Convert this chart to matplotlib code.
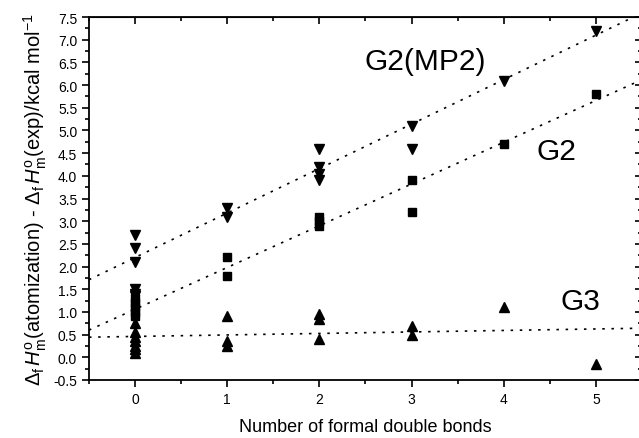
import matplotlib
matplotlib.use("Agg")
import matplotlib.pyplot as plt
import numpy as np
from matplotlib.ticker import MultipleLocator, FormatStrFormatter

plt.rcParams['font.family'] = ['Liberation Sans', 'DejaVu Sans']
plt.rcParams['mathtext.fontset'] = 'custom'
plt.rcParams['mathtext.rm'] = 'Liberation Sans'
plt.rcParams['mathtext.it'] = 'Liberation Sans:italic'

# number of formal double bonds vs. deviation (kcal/mol)
g2mp2_x = [0, 0, 0, 0, 0, 0, 1, 1, 2, 2, 2, 2, 3, 3, 4, 5]
g2mp2_y = [2.7, 2.4, 2.1, 1.5, 1.4, 1.35, 3.3, 3.1, 4.6, 4.2, 4.05, 3.9, 5.1, 4.6, 6.1, 7.2]

g2_x = [0, 0, 0, 0, 0, 1, 1, 2, 2, 2, 3, 3, 4, 5]
g2_y = [1.3, 1.2, 1.1, 1.0, 0.9, 2.2, 1.8, 3.1, 3.0, 2.9, 3.9, 3.2, 4.7, 5.8]

g3_x = [0, 0, 0, 0, 0, 0, 0, 1, 1, 1, 2, 2, 2, 3, 3, 4, 5]
g3_y = [0.75, 0.55, 0.45, 0.35, 0.25, 0.18, 0.1, 0.9, 0.35, 0.25, 0.95, 0.85, 0.4, 0.7, 0.5, 1.1, -0.15]

# fitted lines (intercept, slope) as drawn in the figure
fits = {
    "G2(MP2)": (2.2, 0.98),
    "G2": (1.06, 0.92),
    "G3": (0.46, 0.033),
}

fig = plt.figure(figsize=(6.39, 4.39), dpi=100)
ax = fig.add_axes([89 / 639, 1 - 381 / 439, 553 / 639, 363 / 439])

ax.plot(g2mp2_x, g2mp2_y, 'v', color='black', markersize=7.5, linestyle='none')
ax.plot(g2_x, g2_y, 's', color='black', markersize=6, linestyle='none')
ax.plot(g3_x, g3_y, '^', color='black', markersize=7.5, linestyle='none')

xs = np.array([-0.5, 5.5])
for name, (b, m) in fits.items():
    ax.plot(xs, b + m * xs, color='black', linewidth=1.2, linestyle=(0, (1.5, 4)))

ax.text(3.15, 6.53, "G2(MP2)", fontsize=21.5, ha='center', va='center')
ax.text(4.57, 4.55, "G2", fontsize=21.5, ha='center', va='center')
ax.text(4.83, 1.24, "G3", fontsize=21.5, ha='center', va='center')

ax.set_xlim(-0.5, 5.5)
ax.set_ylim(-0.5, 7.5)
ax.xaxis.set_major_locator(MultipleLocator(1))
ax.xaxis.set_minor_locator(MultipleLocator(0.5))
ax.yaxis.set_major_locator(MultipleLocator(0.5))
ax.yaxis.set_minor_locator(MultipleLocator(0.25))
ax.yaxis.set_major_formatter(FormatStrFormatter('%.1f'))
ax.tick_params(which='both', direction='out', width=1.2, labelsize=10)
ax.tick_params(which='major', length=5)
ax.tick_params(which='minor', length=3)

for s in ax.spines.values():
    s.set_linewidth(1.3)

# mirrored ticks on top and right point inward
top = ax.secondary_xaxis('top')
top.xaxis.set_major_locator(MultipleLocator(1))
top.xaxis.set_minor_locator(MultipleLocator(0.5))
top.tick_params(which='both', direction='in', labeltop=False, width=1.2)
top.tick_params(which='major', length=5)
top.tick_params(which='minor', length=3)
right = ax.secondary_yaxis('right')
right.yaxis.set_major_locator(MultipleLocator(0.5))
right.yaxis.set_minor_locator(MultipleLocator(0.25))
right.tick_params(which='both', direction='in', labelright=False, width=1.2)
right.tick_params(which='major', length=5)
right.tick_params(which='minor', length=3)

ax.set_xlabel("Number of formal double bonds", fontsize=13, labelpad=9)
ax.set_ylabel(r"$\Delta_{\rm f}\,H^{\rm o}_{\rm m}$(atomization) - $\Delta_{\rm f}\,H^{\rm o}_{\rm m}$(exp)/kcal mol$^{-1}$",
              fontsize=14.5, labelpad=3)

fig.savefig("out.png", dpi=100)
